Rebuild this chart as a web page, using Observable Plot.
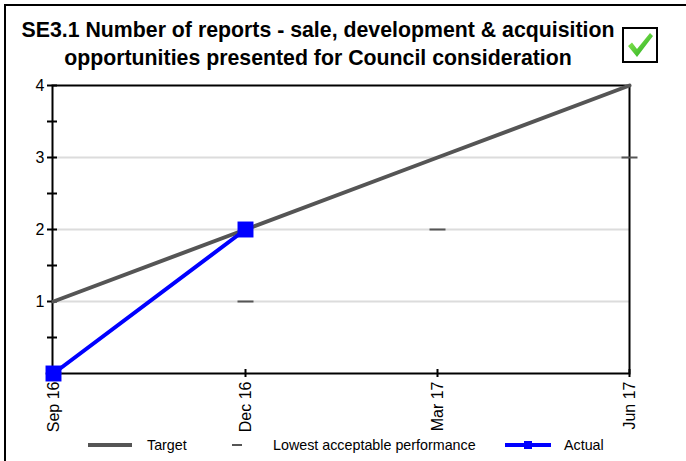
<!DOCTYPE html>
<html>
<head>
<meta charset="utf-8">
<script src="https://cdn.jsdelivr.net/npm/d3@7"></script>
<script src="https://cdn.jsdelivr.net/npm/@observablehq/plot@0.6"></script>
<style>
  html, body { margin: 0; padding: 0; background: #fff; }
  #wrap { position: relative; width: 686px; height: 461px; overflow: hidden; font-family: "Liberation Sans", Arial, sans-serif; }
  #frame { position: absolute; left: 4px; top: 4px; width: 700px; height: 480px; border-left: 2px solid #000; border-top: 2px solid #000; box-sizing: border-box; }
  #title { position: absolute; left: 0; top: 16px; width: 636px; text-align: center; font-weight: bold; font-size: 21.3px; line-height: 28px; color: #000; }
  #check { position: absolute; left: 622px; top: 27px; }
  #chart { position: absolute; left: 0; top: 70px; }
  #legend { position: absolute; left: 0; top: 432px; }
</style>
</head>
<body>
<div id="wrap">
  <div id="frame"></div>
  <div id="title">SE3.1 Number of reports - sale, development &amp; acquisition<br>opportunities presented for Council consideration</div>
  <svg id="check" width="36" height="36" viewBox="0 0 36 36">
    <defs>
      <linearGradient id="g" x1="0" y1="0" x2="1" y2="1">
        <stop offset="0" stop-color="#9cf25a"/>
        <stop offset="1" stop-color="#1aa51a"/>
      </linearGradient>
    </defs>
    <rect x="1" y="1" width="34" height="34" fill="#fff" stroke="#000" stroke-width="2"/>
    <path d="M6 19 L10 15.5 L15 22 L28 6 L31 9 L15 30 Z" fill="url(#g)"/>
  </svg>
  <div id="chart"></div>
  <svg id="legend" width="686" height="29"></svg>
</div>
<script>
const months = ["Sep 16", "Dec 16", "Mar 17", "Jun 17"];
const targetValues = [1, 2, 3, 4];
const lowestMonths = ["Sep 16", "Dec 16", "Mar 17", "Jun 17"];
const lowestValues = [0, 1, 2, 3];
const actualMonths = ["Sep 16", "Dec 16"];
const actualValues = [0, 2];
const yLabelTicks = [1, 2, 3, 4];
const yAllTicks = [0, 0.5, 1, 1.5, 2, 2.5, 3, 3.5, 4];
const gridValues = [1, 2, 3];
const legendLabels = ["Target", "Lowest acceptable performance", "Actual"];

const target = months.map((m, i) => ({m, v: targetValues[i]}));
const lowest = lowestMonths.map((m, i) => ({m, v: lowestValues[i]}));
const actual = actualMonths.map((m, i) => ({m, v: actualValues[i]}));

const dash = {draw(ctx) { ctx.moveTo(-8, 0); ctx.lineTo(8, 0); }};
const blank = () => "";

const chart = Plot.plot({
  width: 686,
  height: 370,
  marginLeft: 52,
  marginRight: 57,
  marginTop: 15,
  marginBottom: 67,
  style: {fontFamily: "'Liberation Sans', Arial, sans-serif", fontSize: "16px", color: "#000", background: "transparent"},
  x: {type: "point", domain: months, padding: 0, label: null},
  y: {domain: [0, 4], label: null},
  marks: [
    Plot.gridY(gridValues, {stroke: "#dcdcdc", strokeOpacity: 1, strokeWidth: 2}),
    Plot.frame({stroke: "#000", strokeWidth: 2}),
    Plot.axisY({ticks: yAllTicks, tickSize: 10, dx: 5, tickFormat: blank, strokeWidth: 2, label: null}),
    Plot.axisY({ticks: yLabelTicks, tickSize: 0, tickPadding: 8, fontSize: 16, tickFormat: d => String(d), label: null}),
    Plot.axisX({ticks: months.slice(1), tickSize: 8, dy: -4, tickFormat: blank, strokeWidth: 2, label: null}),
    Plot.axisX({ticks: months, tickSize: 0, tickPadding: 8, tickRotate: -90, fontSize: 16, label: null}),
    Plot.dot(lowest, {x: "m", y: "v", symbol: dash, fill: "none", stroke: "#555", strokeWidth: 2}),
    Plot.line(target, {x: "m", y: "v", stroke: "#555", strokeWidth: 4}),
    Plot.line(actual, {x: "m", y: "v", stroke: "#0000ff", strokeWidth: 4}),
    Plot.dot(actual, {x: "m", y: "v", symbol: "square", r: 9, fill: "#0000ff", stroke: null})
  ]
});
document.getElementById("chart").appendChild(chart);

// legend
const lg = d3.select("#legend");
const cy = 13;
lg.append("line").attr("x1", 88).attr("x2", 132).attr("y1", cy).attr("y2", cy).attr("stroke", "#555").attr("stroke-width", 4);
lg.append("line").attr("x1", 232).attr("x2", 242).attr("y1", cy).attr("y2", cy).attr("stroke", "#555").attr("stroke-width", 2);
lg.append("line").attr("x1", 505).attr("x2", 551).attr("y1", cy).attr("y2", cy).attr("stroke", "#0000ff").attr("stroke-width", 4);
lg.append("rect").attr("x", 524).attr("y", cy - 4).attr("width", 8).attr("height", 8).attr("fill", "#0000ff");
const lx = [147, 273, 564];
legendLabels.forEach((t, i) => {
  lg.append("text").attr("x", lx[i]).attr("y", cy + 5).attr("font-size", 14.3).attr("font-family", "'Liberation Sans', Arial, sans-serif").attr("fill", "#000").text(t);
});
</script>
</body>
</html>
